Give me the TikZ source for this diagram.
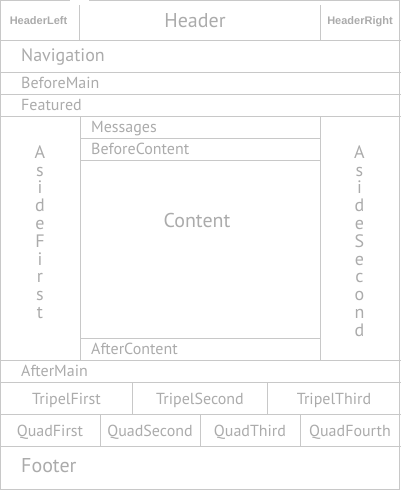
\documentclass[tikz,border=0pt]{standalone}
\usepackage{fontspec}
\setmainfont{PT Sans}
\newfontfamily\headfont{Liberation Sans}

\definecolor{rulegray}{HTML}{C8C8C8}
\definecolor{textgray}{HTML}{ABABAB}

\begin{document}
\begin{tikzpicture}[line cap=rect, line join=miter, x=1pt, y=-1pt,
    region/.style={draw=rulegray, line width=1pt},
    lbl/.style={text=textgray, inner sep=0pt, anchor=base west, font=\fontsize{16}{16}\selectfont},
    big/.style={lbl, font=\fontsize{20}{20}\selectfont},
    corner/.style={text=textgray, inner sep=0pt, anchor=base, font=\headfont\bfseries\fontsize{11}{11}\selectfont},
    cell/.style={lbl, anchor=base},
    side/.style={lbl, anchor=base, font=\fontsize{18}{18}\selectfont}]

    \useasboundingbox (0,0) rectangle (400,490);

    \draw[region] (89,0.5) -- (399.5,0.5) -- (399.5,489.5) -- (0.5,489.5) -- (0.5,0.5) -- (69,0.5);

    \foreach \y in {40.5,72.5,94.5,116.5,360.5,382.5,414.5,446.5}
        \draw[region] (0,\y) -- (400,\y);

    \draw[region] (79.5,5) -- (79.5,40.5);
    \draw[region] (320.5,5) -- (320.5,40.5);

    \draw[region] (80.5,116.5) -- (80.5,360.5);
    \draw[region] (320.5,116.5) -- (320.5,360.5);
    \foreach \y in {138.5,160.5,338.5}
        \draw[region] (80.5,\y) -- (320.5,\y);

    \draw[region] (132.5,382.5) -- (132.5,414.5);
    \draw[region] (267.5,382.5) -- (267.5,414.5);

    \foreach \x in {100.5,200.5,300.5}
        \draw[region] (\x,414.5) -- (\x,446.5);

    \node[corner] (headerleft) at (38.5,24) {HeaderLeft};
    \node[big, anchor=base] (header) at (195,27.3) {Header};
    \node[corner] (headerright) at (360,24) {HeaderRight};

    \node[lbl, font=\fontsize{18}{18}\selectfont] (navigation) at (21,61.7) {Navigation};
    \node[lbl] (beforemain) at (21,88) {BeforeMain};
    \node[lbl] (featured) at (21,110.7) {Featured};

    \node[lbl] (messages) at (91,132.7) {Messages};
    \node[lbl] (beforecontent) at (91,154) {BeforeContent};
    \node[big, anchor=base] (content) at (197,227.3) {Content};
    \node[lbl] (aftercontent) at (91,354) {AfterContent};

    \foreach \ch [count=\k from 0] in {A,s,i,d,e,F,i,r,s,t}
        \node[side] (asidefirst\k) at (40,158.3+17.8*\k) {\ch};
    \foreach \ch [count=\k from 0] in {A,s,i,d,e,S,e,c,o,n,d}
        \node[side] (asidesecond\k) at (359.5,158.3+17.8*\k) {\ch};

    \node[lbl] (aftermain) at (21,376.7) {AfterMain};

    \node[cell] (tripelfirst) at (66.5,404) {TripelFirst};
    \node[cell] (tripelsecond) at (200,404) {TripelSecond};
    \node[cell] (tripelthird) at (334,404) {TripelThird};

    \node[cell] (quadfirst) at (50,436) {QuadFirst};
    \node[cell] (quadsecond) at (150,436) {QuadSecond};
    \node[cell] (quadthird) at (250,436) {QuadThird};
    \node[cell] (quadfourth) at (350,436) {QuadFourth};

    \node[big] (footer) at (21,472.7) {Footer};

\end{tikzpicture}
\end{document}
